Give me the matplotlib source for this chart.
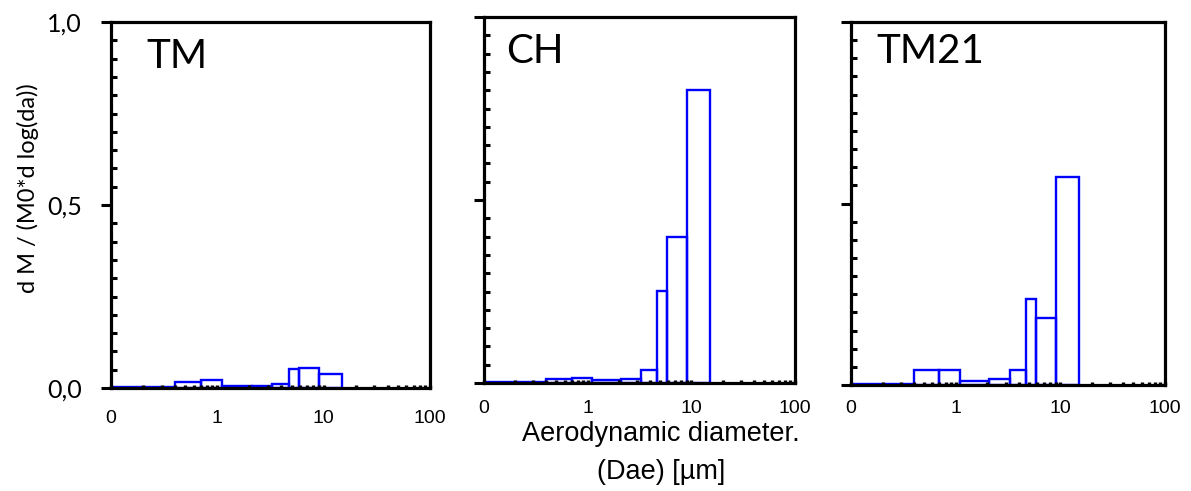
import numpy as np
import matplotlib
matplotlib.use('Agg')
import matplotlib.pyplot as plt
from matplotlib.ticker import MultipleLocator, LogLocator, NullFormatter

# Andersen stage cut-offs (µm), lowest bin starts at the filter
edges = [0.1, 0.4, 0.7, 1.1, 2.1, 3.3, 4.7, 5.8, 9.0, 15.0]

panel_names = ['TM', 'CH', 'TM21']
tm_vals = [0.003, 0.016, 0.022, 0.006, 0.006, 0.012, 0.052, 0.056, 0.037]
ch_vals = [0.003, 0.012, 0.015, 0.008, 0.012, 0.036, 0.251, 0.400, 0.800]
tm21_vals = [0.003, 0.040, 0.040, 0.011, 0.016, 0.040, 0.238, 0.185, 0.573]

x_ticks = [0.1, 1, 10, 100]
x_ticklabels = ['0', '1', '10', '100']
y_ticks = [0.0, 0.5, 1.0]
y_ticklabels = ['0,0', '0,5', '1,0']

W, H = 1191, 491
fig = plt.figure(figsize=(W / 100, H / 100), dpi=100)

# axes boxes in pixels: left, top, right, bottom
boxes = [(111, 22, 430, 388), (484, 17, 795, 383), (851, 22, 1165, 385)]
label_pads = [9, 5, 4]
title_pos = [(0.11, 0.955), (0.07, 0.955), (0.08, 0.97)]

left = np.array(edges[:-1])
widths = np.diff(edges)

for name, vals, (l, t, r, b), pad, tpos in zip(panel_names, [tm_vals, ch_vals, tm21_vals],
                                               boxes, label_pads, title_pos):
    ax = fig.add_axes([l / W, 1 - b / H, (r - l) / W, (b - t) / H])
    ax.bar(left, vals, width=widths, align='edge', fill=False,
           edgecolor='#0000ff', linewidth=1.7, zorder=1)
    ax.set_xscale('log')
    ax.set_xlim(0.1, 100)
    ax.set_ylim(0, 1.0)

    for s in ax.spines.values():
        s.set_linewidth(2.3)
        s.set_zorder(2.5)

    ax.set_xticks(x_ticks)
    ax.set_xticklabels(x_ticklabels, fontfamily='Liberation Sans', fontsize=14)
    ax.xaxis.set_minor_locator(LogLocator(base=10, subs=np.arange(2, 10), numticks=20))
    ax.xaxis.set_minor_formatter(NullFormatter())
    ax.tick_params(axis='x', which='both', direction='in', length=2.5, width=2.4,
                   pad=pad + 7, color='black')

    ax.set_yticks(y_ticks)
    ax.yaxis.set_minor_locator(MultipleLocator(0.05))
    ax.tick_params(axis='y', which='major', direction='out', length=7, width=2.2, pad=14)
    ax.tick_params(axis='y', which='minor', direction='in', length=4.5, width=2.2)
    if name == 'TM':
        ax.set_yticklabels(y_ticklabels, fontfamily='Lato', fontsize=18)
    else:
        ax.set_yticklabels([])

    ax.text(tpos[0], tpos[1], name, transform=ax.transAxes,
            ha='left', va='top', fontfamily='Lato', fontsize=29)

fig.text(28 / W, 1 - 188 / H, 'd M / (M0*d log(da))', rotation=90,
         ha='center', va='center', fontfamily='Lato', fontsize=17)
fig.text(661 / W, 1 - 453 / H, 'Aerodynamic diameter.\n(Dae) [µm]',
         ha='center', va='center', fontfamily='Liberation Sans', fontsize=19.5,
         linespacing=1.6)

fig.savefig('out.png', dpi=100)
